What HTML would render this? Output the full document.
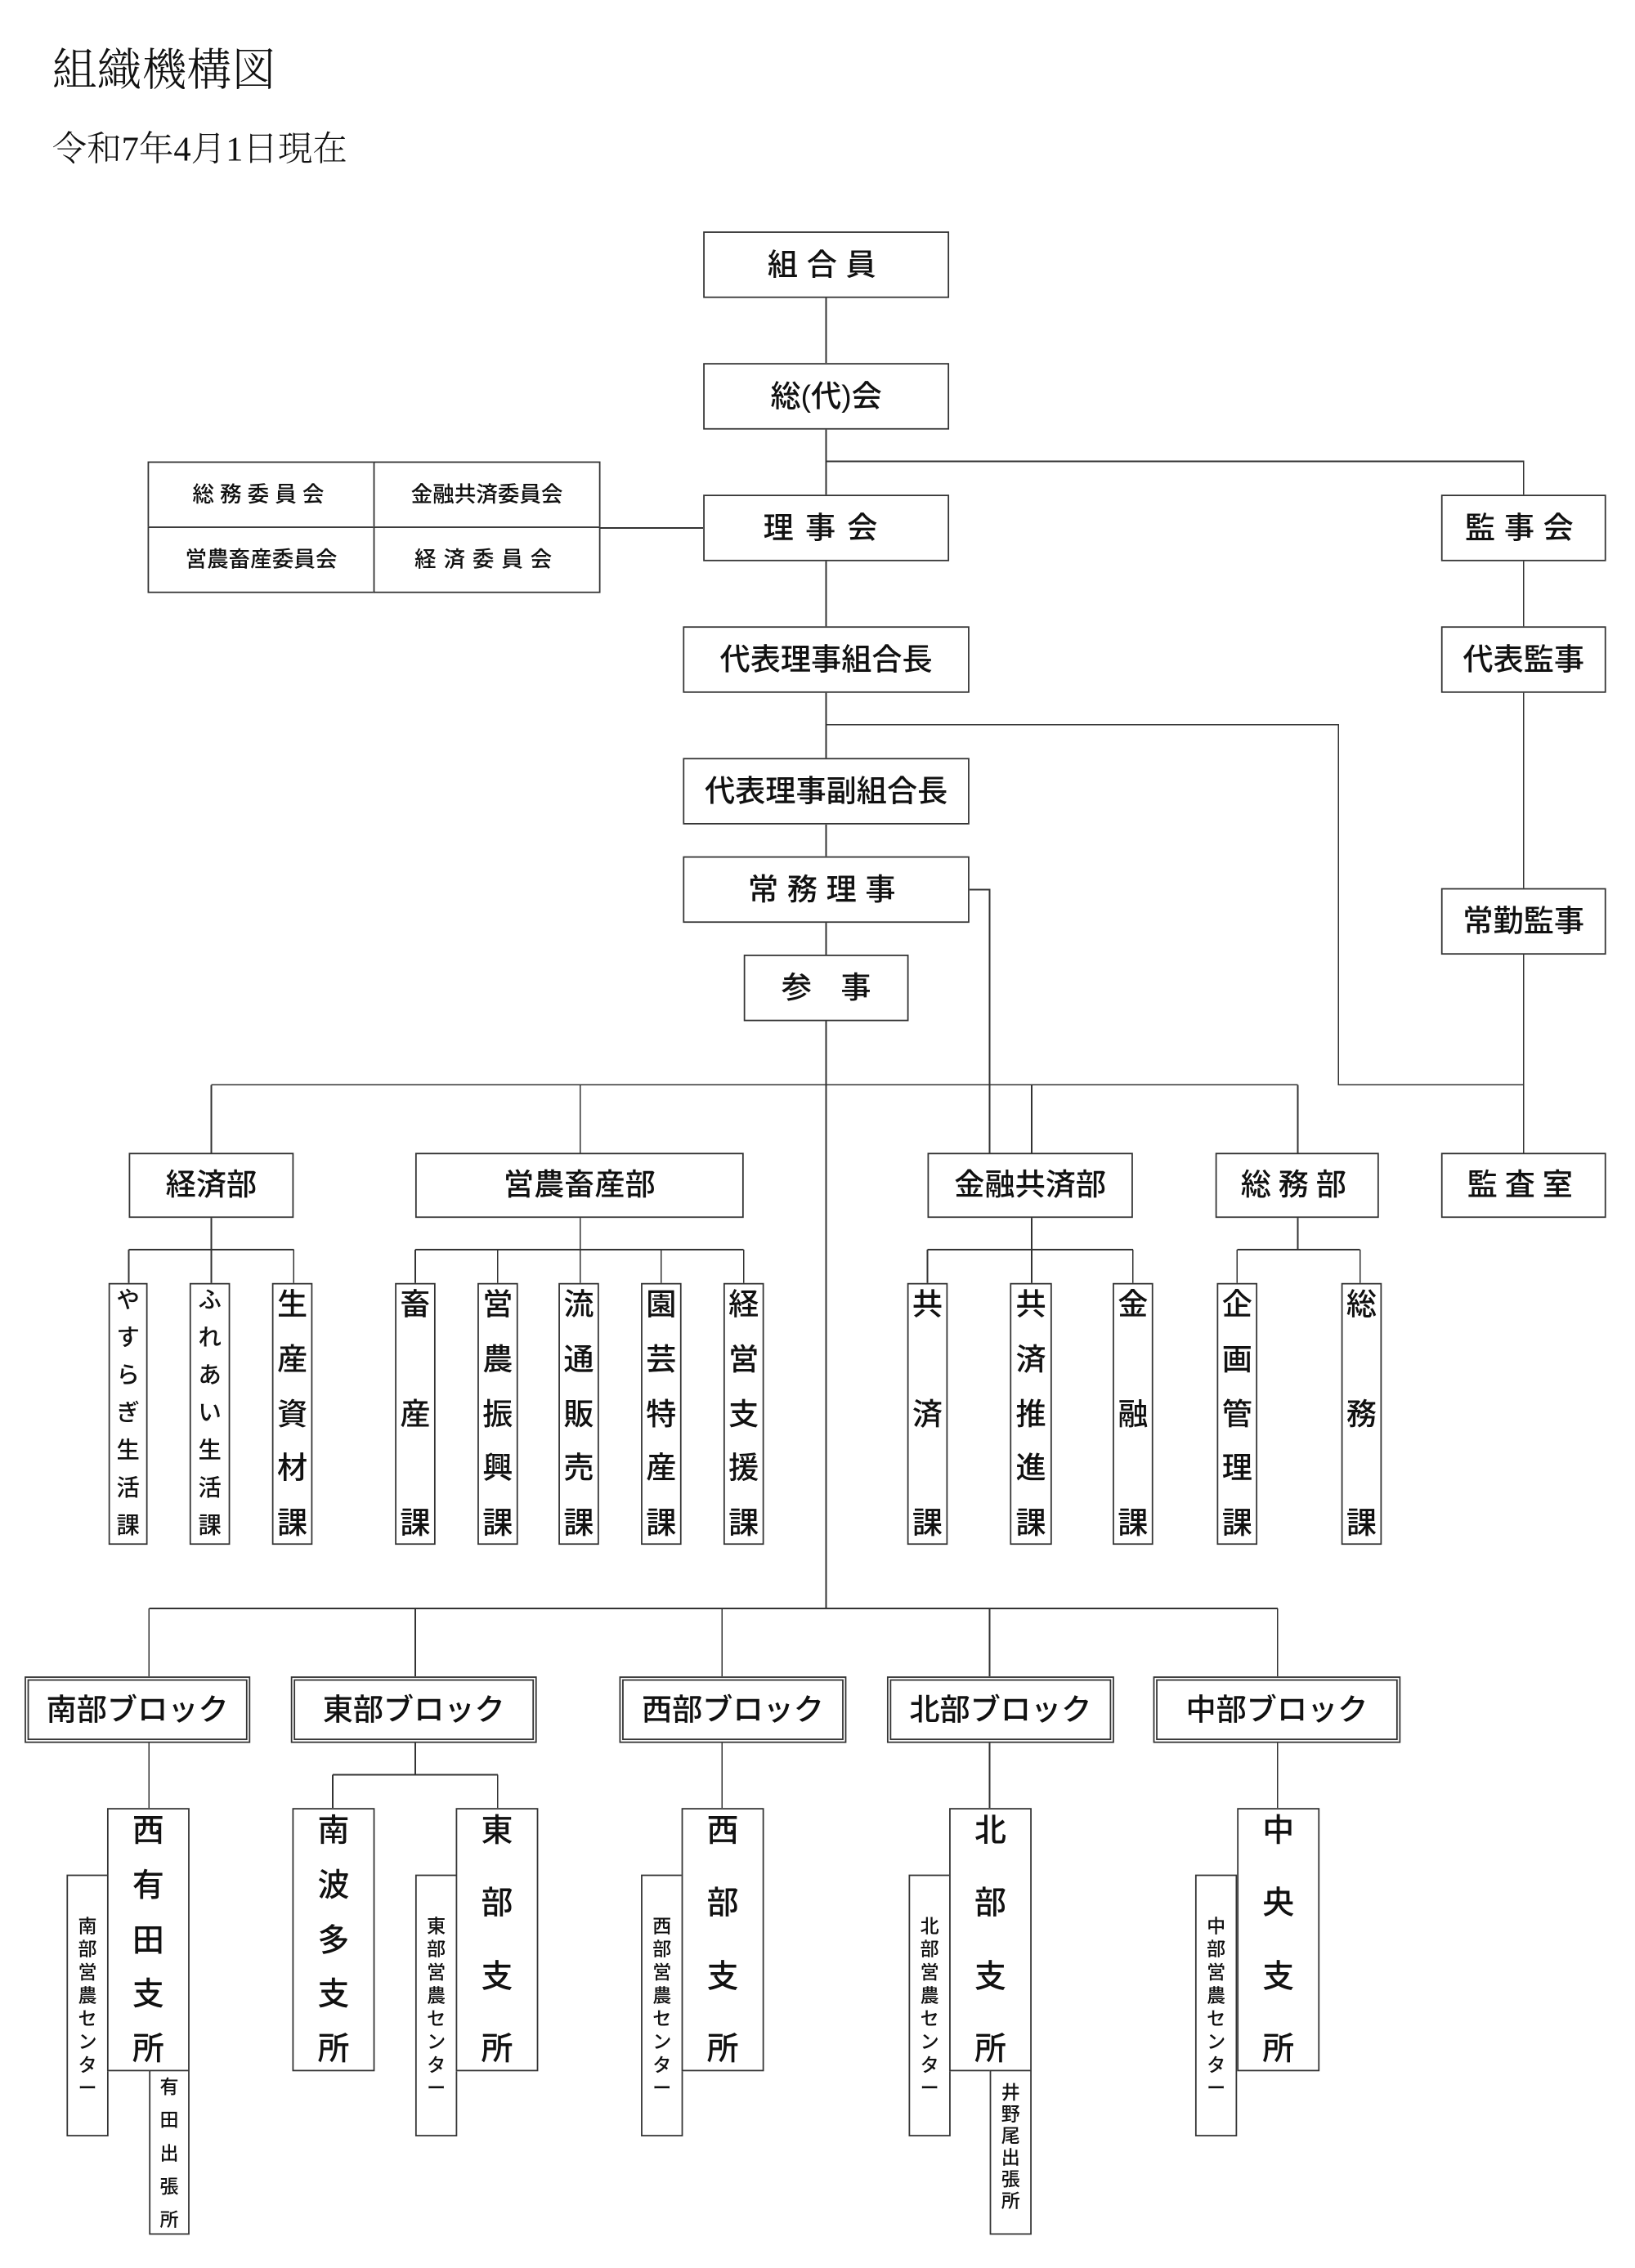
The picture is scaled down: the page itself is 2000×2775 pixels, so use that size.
<!DOCTYPE html>
<html><head><meta charset="utf-8">
<style>
html,body{margin:0;padding:0;background:#fff;}
body{width:2000px;height:2775px;overflow:hidden;position:relative;}
#w{position:absolute;left:0;top:0;width:1130px;height:1568px;transform:scale(1.76991,1.76977);transform-origin:0 0;font-family:"Liberation Sans","Noto Sans CJK JP",sans-serif;color:#111;}
.b{position:absolute;border:1px solid #333;box-sizing:border-box;display:flex;align-items:center;justify-content:center;background:#fff;font-size:21px;line-height:1;white-space:nowrap;font-weight:500;}
.v{flex-direction:column;justify-content:space-between;padding:4px 0 3px;}
.v span{display:block;}
.blk{border:3px double #333;}
.t{position:absolute;font-family:"Liberation Serif","Noto Serif CJK SC",serif;font-weight:300;white-space:nowrap;}
svg{position:absolute;left:0;top:0;}
</style></head><body><div id="w">
<div class="t" style="left:36px;top:23px;font-size:31px;">組織機構図</div>
<div class="t" style="left:36px;top:83px;font-size:24px;">令和7年4月1日現在</div>
<svg width="1130" height="1568" viewBox="0 0 1130 1568" stroke="#333" stroke-width="1" fill="none" shape-rendering="crispEdges">
<path d="M571 206V251M571 297V342M571 388V433M571 479V524M571 570V592M571 638V660M571 706V1112
M571 319H1053V342M1053 388V433M1053 479V614M1053 660V797
M415 365H486
M571 501H925V750H1053
M670 615H684V797
M146 750H897M146 750V797M401 750V797M713 750V797M897 750V797
M146 842V887M401 842V887M713 842V887M897 842V864
M89 864H203M287 864H514M641 864H783M855 864H940
M89 864V887M203 864V887M287 864V887M344 864V887M457 864V887M514 864V887M641 864V887M783 864V887M855 864V887M940 864V887
M103 1112H883M103 1112V1159M287 1112V1159M499 1112V1159M684 1112V1159M883 1112V1159
M103 1205V1250M287 1205V1227M230 1227H344M230 1227V1250M344 1227V1250M499 1205V1250M684 1205V1250M883 1205V1250"/>
</svg>

<div class="b" style="left:486px;top:160px;width:170px;height:46px;letter-spacing:6px;">組合員</div>
<div class="b" style="left:486px;top:251px;width:170px;height:46px;">総(代)会</div>
<div class="b" style="left:486px;top:342px;width:170px;height:46px;letter-spacing:8px;">理事会</div>
<div class="b" style="left:996px;top:342px;width:114px;height:46px;letter-spacing:6px;">監事会</div>
<div class="b" style="left:472px;top:433px;width:198px;height:46px;">代表理事組合長</div>
<div class="b" style="left:996px;top:433px;width:114px;height:46px;">代表監事</div>
<div class="b" style="left:472px;top:524px;width:198px;height:46px;">代表理事副組合長</div>
<div class="b" style="left:472px;top:592px;width:198px;height:46px;letter-spacing:6px;">常務理事</div>
<div class="b" style="left:996px;top:614px;width:114px;height:46px;">常勤監事</div>
<div class="b" style="left:514px;top:660px;width:114px;height:46px;letter-spacing:20px;padding-left:20px;">参事</div>

<div class="b" style="left:102px;top:319px;width:157px;height:46px;font-size:15px;letter-spacing:4px;">総務委員会</div>
<div class="b" style="left:258px;top:319px;width:157px;height:46px;font-size:15px;">金融共済委員会</div>
<div class="b" style="left:102px;top:364px;width:157px;height:46px;font-size:15px;">営農畜産委員会</div>
<div class="b" style="left:258px;top:364px;width:157px;height:46px;font-size:15px;letter-spacing:5px;">経済委員会</div>

<div class="b" style="left:89px;top:797px;width:114px;height:45px;">経済部</div>
<div class="b" style="left:287px;top:797px;width:227px;height:45px;">営農畜産部</div>
<div class="b" style="left:641px;top:797px;width:142px;height:45px;">金融共済部</div>
<div class="b" style="left:840px;top:797px;width:113px;height:45px;letter-spacing:5px;">総務部</div>
<div class="b" style="left:996px;top:797px;width:114px;height:45px;letter-spacing:5px;">監査室</div>

<div class="b v" style="left:75px;top:887px;width:27px;height:181px;font-size:16px;"><span>や</span><span>す</span><span>ら</span><span>ぎ</span><span>生</span><span>活</span><span>課</span></div>
<div class="b v" style="left:131px;top:887px;width:28px;height:181px;font-size:16px;"><span>ふ</span><span>れ</span><span>あ</span><span>い</span><span>生</span><span>活</span><span>課</span></div>
<div class="b v" style="left:188px;top:887px;width:28px;height:181px;"><span>生</span><span>産</span><span>資</span><span>材</span><span>課</span></div>
<div class="b v" style="left:273px;top:887px;width:28px;height:181px;"><span>畜</span><span>産</span><span>課</span></div>
<div class="b v" style="left:330px;top:887px;width:28px;height:181px;"><span>営</span><span>農</span><span>振</span><span>興</span><span>課</span></div>
<div class="b v" style="left:386px;top:887px;width:28px;height:181px;"><span>流</span><span>通</span><span>販</span><span>売</span><span>課</span></div>
<div class="b v" style="left:443px;top:887px;width:28px;height:181px;"><span>園</span><span>芸</span><span>特</span><span>産</span><span>課</span></div>
<div class="b v" style="left:500px;top:887px;width:28px;height:181px;"><span>経</span><span>営</span><span>支</span><span>援</span><span>課</span></div>
<div class="b v" style="left:627px;top:887px;width:28px;height:181px;"><span>共</span><span>済</span><span>課</span></div>
<div class="b v" style="left:698px;top:887px;width:29px;height:181px;"><span>共</span><span>済</span><span>推</span><span>進</span><span>課</span></div>
<div class="b v" style="left:769px;top:887px;width:28px;height:181px;"><span>金</span><span>融</span><span>課</span></div>
<div class="b v" style="left:841px;top:887px;width:28px;height:181px;"><span>企</span><span>画</span><span>管</span><span>理</span><span>課</span></div>
<div class="b v" style="left:927px;top:887px;width:28px;height:181px;"><span>総</span><span>務</span><span>課</span></div>

<div class="b blk" style="left:17px;top:1159px;width:156px;height:46px;">南部ブロック</div>
<div class="b blk" style="left:201px;top:1159px;width:170px;height:46px;">東部ブロック</div>
<div class="b blk" style="left:428px;top:1159px;width:157px;height:46px;">西部ブロック</div>
<div class="b blk" style="left:613px;top:1159px;width:157px;height:46px;">北部ブロック</div>
<div class="b blk" style="left:797px;top:1159px;width:171px;height:46px;">中部ブロック</div>

<div class="b v" style="left:46px;top:1296px;width:29px;height:181px;font-size:13px;justify-content:center;gap:3px;"><span>南</span><span>部</span><span>営</span><span>農</span><span>セ</span><span>ン</span><span>タ</span><span>ー</span></div>
<div class="b v" style="left:74px;top:1250px;width:57px;height:182px;font-size:22px;"><span>西</span><span>有</span><span>田</span><span>支</span><span>所</span></div>
<div class="b v" style="left:103px;top:1431px;width:28px;height:114px;font-size:13px;"><span>有</span><span>田</span><span>出</span><span>張</span><span>所</span></div>

<div class="b v" style="left:202px;top:1250px;width:57px;height:182px;font-size:22px;"><span>南</span><span>波</span><span>多</span><span>支</span><span>所</span></div>
<div class="b v" style="left:287px;top:1296px;width:29px;height:181px;font-size:13px;justify-content:center;gap:3px;"><span>東</span><span>部</span><span>営</span><span>農</span><span>セ</span><span>ン</span><span>タ</span><span>ー</span></div>
<div class="b v" style="left:315px;top:1250px;width:57px;height:182px;font-size:22px;"><span>東</span><span>部</span><span>支</span><span>所</span></div>

<div class="b v" style="left:443px;top:1296px;width:29px;height:181px;font-size:13px;justify-content:center;gap:3px;"><span>西</span><span>部</span><span>営</span><span>農</span><span>セ</span><span>ン</span><span>タ</span><span>ー</span></div>
<div class="b v" style="left:471px;top:1250px;width:57px;height:182px;font-size:22px;"><span>西</span><span>部</span><span>支</span><span>所</span></div>

<div class="b v" style="left:628px;top:1296px;width:29px;height:181px;font-size:13px;justify-content:center;gap:3px;"><span>北</span><span>部</span><span>営</span><span>農</span><span>セ</span><span>ン</span><span>タ</span><span>ー</span></div>
<div class="b v" style="left:656px;top:1250px;width:57px;height:182px;font-size:22px;"><span>北</span><span>部</span><span>支</span><span>所</span></div>
<div class="b v" style="left:684px;top:1431px;width:29px;height:114px;font-size:13px;justify-content:flex-start;gap:2px;padding-top:8px;"><span>井</span><span>野</span><span>尾</span><span>出</span><span>張</span><span>所</span></div>

<div class="b v" style="left:826px;top:1296px;width:29px;height:181px;font-size:13px;justify-content:center;gap:3px;"><span>中</span><span>部</span><span>営</span><span>農</span><span>セ</span><span>ン</span><span>タ</span><span>ー</span></div>
<div class="b v" style="left:855px;top:1250px;width:57px;height:182px;font-size:22px;"><span>中</span><span>央</span><span>支</span><span>所</span></div>
</div></body></html>
